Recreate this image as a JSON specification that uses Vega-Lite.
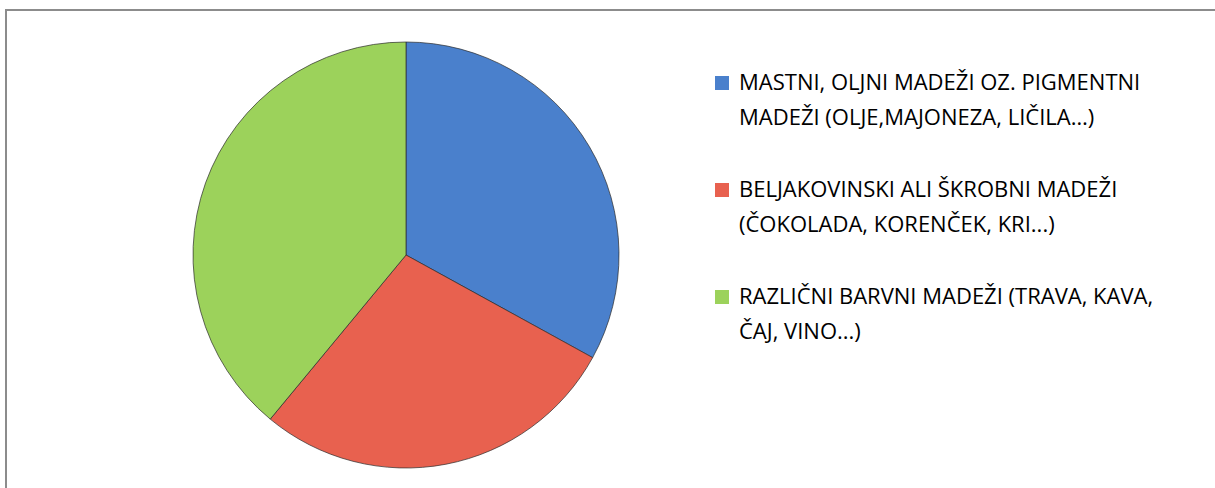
{
  "$schema": "https://vega.github.io/schema/vega-lite/v6.json",
  "width": 1240,
  "height": 490,
  "autosize": {"type": "none"},
  "padding": {"left": 6, "top": 10, "right": 0, "bottom": 0},
  "background": "white",
  "data": {
    "values": [
      {"stain": "MASTNI, OLJNI MADEŽI OZ. PIGMENTNI\nMADEŽI (OLJE,MAJONEZA, LIČILA…)", "share": 33, "order": 1},
      {"stain": "BELJAKOVINSKI  ALI ŠKROBNI MADEŽI\n(ČOKOLADA, KORENČEK, KRI...)", "share": 28, "order": 2},
      {"stain": "RAZLIČNI BARVNI MADEŽI (TRAVA, KAVA,\nČAJ, VINO...)", "share": 39, "order": 3}
    ]
  },
  "mark": {"type": "arc", "outerRadius": 213, "stroke": "#2b2b2b", "strokeWidth": 0.7},
  "encoding": {
    "theta": {"field": "share", "type": "quantitative", "stack": true},
    "order": {"field": "order", "type": "quantitative"},
    "x": {"datum": 400, "type": "quantitative", "scale": {"domain": [0, 1240]}, "axis": null},
    "color": {
      "field": "stain",
      "type": "nominal",
      "sort": null,
      "scale": {
        "domain": [
          "MASTNI, OLJNI MADEŽI OZ. PIGMENTNI\nMADEŽI (OLJE,MAJONEZA, LIČILA…)",
          "BELJAKOVINSKI  ALI ŠKROBNI MADEŽI\n(ČOKOLADA, KORENČEK, KRI...)",
          "RAZLIČNI BARVNI MADEŽI (TRAVA, KAVA,\nČAJ, VINO...)"
        ],
        "range": ["#4A80CC", "#E8614F", "#9CD25B"]
      },
      "legend": {
        "orient": "none",
        "direction": "vertical",
        "legendX": 705,
        "legendY": 62,
        "title": null,
        "symbolType": "square",
        "symbolSize": 196,
        "symbolStrokeWidth": 0,
        "symbolOpacity": 1,
        "labelFont": "Open Sans",
        "labelFontSize": 22,
        "labelColor": "#000000",
        "labelLimit": 800,
        "labelOffset": 6,
        "labelExpr": "split(datum.label, '\\n')",
        "rowPadding": 50
      }
    }
  },
  "config": {
    "view": {"stroke": "#8c8c8c", "strokeWidth": 2},
    "style": {"guide-label": {"lineHeight": 35}}
  }
}
